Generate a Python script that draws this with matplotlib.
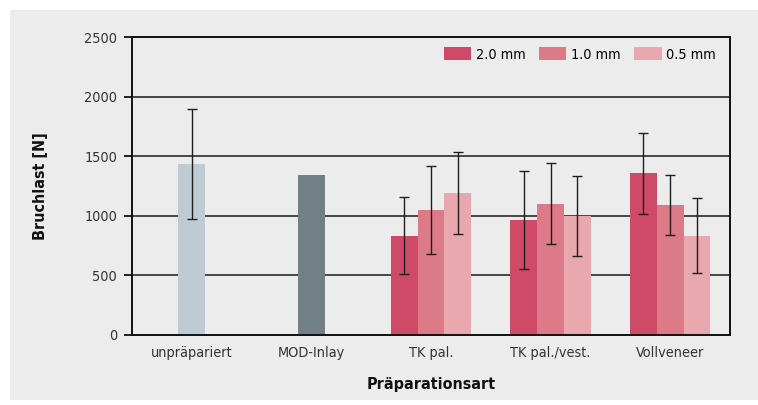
import matplotlib
matplotlib.use("Agg")
import matplotlib.pyplot as plt
from matplotlib.patches import Rectangle
import numpy as np

plt.rcParams['font.family'] = ['DejaVu Sans']
plt.rcParams['font.stretch'] = 'condensed'

categories = ["unpräpariert", "MOD-Inlay", "TK pal.", "TK pal./vest.", "Vollveneer"]

# reference groups (single bars)
ref_means = [1435, 1340]
ref_sd = [465, None]
ref_colors = ["#bfcbd3", "#717f86"]

# thickness groups for the three preparation types
thickness_labels = ["2.0 mm", "1.0 mm", "0.5 mm"]
thickness_colors = ["#cf4a67", "#dc7a87", "#e8a8ae"]
means_20 = [835, 965, 1358]
sd_20 = [325, 410, 342]
means_10 = [1050, 1103, 1090]
sd_10 = [370, 338, 250]
means_05 = [1190, 1000, 833]
sd_05 = [343, 338, 316]

yticks = [0, 500, 1000, 1500, 2000, 2500]

bg = "#ebeceb"
fig = plt.figure(figsize=(7.58, 4.05), dpi=100, facecolor="white")
fig.add_artist(Rectangle((10 / 758, 5 / 405), 748 / 758, 390 / 405,
                         transform=fig.transFigure, facecolor=bg,
                         edgecolor="none", zorder=-10))
ax = fig.add_axes([131.7 / 758, 70 / 405, 598.3 / 758, 297.7 / 405])
ax.set_facecolor(bg)

w = 0.223
err_kw = dict(ecolor="#1e1e1e", elinewidth=1.0, capsize=3.4, capthick=1.0)

x = np.arange(len(categories))
for i, (m, s, c) in enumerate(zip(ref_means, ref_sd, ref_colors)):
    if s is None:
        ax.bar(x[i], m, width=w, color=c, zorder=2)
    else:
        ax.bar(x[i], m, width=w, color=c, yerr=s, error_kw=err_kw, zorder=2)

gx = x[2:]
series = [(means_20, sd_20), (means_10, sd_10), (means_05, sd_05)]
for k, ((m, s), lab, c) in enumerate(zip(series, thickness_labels, thickness_colors)):
    ax.bar(gx + (k - 1) * w, m, width=w, color=c, yerr=s, error_kw=err_kw,
           label=lab, zorder=2)

ax.set_xlim(-0.5, 4.5)
ax.set_ylim(0, 2500)
ax.set_yticks(yticks)
ax.set_xticks(x)
ax.set_xticklabels(categories)
ax.yaxis.grid(True, color="#2a2a2a", linewidth=1.2, zorder=1)
ax.set_axisbelow(True)
for sp in ax.spines.values():
    sp.set_color("#111111")
    sp.set_linewidth(1.4)
ax.tick_params(axis="y", length=5.5, width=1.3, pad=5, labelsize=10.4,
               colors="#111111", labelcolor="#333333")
ax.tick_params(axis="x", length=0, pad=8, labelsize=10.4, labelcolor="#333333")

ax.set_ylabel("Bruchlast [N]", fontsize=11.5, fontweight="bold", labelpad=26,
              color="#111111")
ax.set_xlabel("Präparationsart", fontsize=11.5, fontweight="bold", labelpad=12,
              color="#111111")

ax.legend(loc="upper right", bbox_to_anchor=(0.976, 0.966), frameon=False,
          ncol=3, fontsize=10.4, handlelength=1.9, handleheight=0.95,
          handletextpad=0.3, columnspacing=0.95, borderpad=0, borderaxespad=0)

fig.savefig("out.png", dpi=100, facecolor="white")
